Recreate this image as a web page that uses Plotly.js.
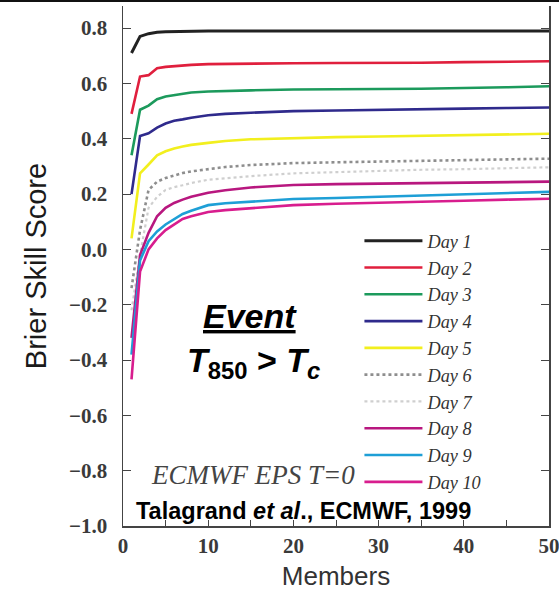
<!DOCTYPE html>
<html>
<head>
<meta charset="utf-8">
<script src="https://cdn.plot.ly/plotly-3.0.1.min.js"></script>
<style>html,body{margin:0;padding:0;background:#fff;}#chart{width:559px;height:599px;}</style>
</head>
<body>
<div id="chart"></div>
<script>
const members = [1,2,3,4,5,6,7,8,10,12,15,20,25,30,35,40,45,50];
const dayNames = ['Day 1','Day 2','Day 3','Day 4','Day 5','Day 6','Day 7','Day 8','Day 9','Day 10'];
const day1 = [0.71,0.77,0.78,0.785,0.787,0.788,0.789,0.79,0.79,0.79,0.79,0.79,0.79,0.79,0.79,0.79,0.79,0.79];
const day2 = [0.49,0.625,0.63,0.655,0.66,0.663,0.665,0.667,0.67,0.671,0.672,0.673,0.674,0.674,0.675,0.677,0.678,0.68];
const day3 = [0.34,0.505,0.52,0.543,0.553,0.558,0.563,0.567,0.571,0.573,0.575,0.578,0.58,0.58,0.581,0.583,0.586,0.59];
const day4 = [0.20,0.41,0.42,0.44,0.455,0.465,0.47,0.476,0.485,0.49,0.494,0.5,0.502,0.505,0.507,0.509,0.511,0.513];
const day5 = [0.04,0.275,0.307,0.34,0.355,0.365,0.372,0.378,0.385,0.392,0.398,0.403,0.406,0.408,0.41,0.412,0.414,0.418];
const day6 = [-0.14,0.07,0.215,0.245,0.258,0.268,0.276,0.282,0.29,0.298,0.305,0.312,0.315,0.318,0.32,0.322,0.325,0.328];
const day7 = [-0.22,-0.02,0.15,0.19,0.215,0.225,0.232,0.24,0.252,0.258,0.265,0.275,0.28,0.284,0.288,0.29,0.293,0.297];
const day8 = [-0.32,-0.02,0.06,0.12,0.15,0.168,0.18,0.19,0.205,0.214,0.224,0.233,0.236,0.238,0.24,0.241,0.243,0.245];
const day9 = [-0.38,-0.04,0.03,0.065,0.09,0.108,0.128,0.14,0.16,0.167,0.173,0.182,0.186,0.19,0.195,0.2,0.204,0.208];
const day10 = [-0.47,-0.08,0.0,0.04,0.07,0.09,0.11,0.12,0.135,0.142,0.149,0.16,0.165,0.168,0.172,0.176,0.18,0.183];
const xTickVals = [0,10,20,30,40,50];
const yTickVals = [-1.0,-0.8,-0.6,-0.4,-0.2,0.0,0.2,0.4,0.6,0.8];
const yTickText = ['\u22121.0','\u22120.8','\u22120.6','\u22120.4','\u22120.2','0.0','0.2','0.4','0.6','0.8'];

const series = [day1,day2,day3,day4,day5,day6,day7,day8,day9,day10];
const colors = ['#222222','#e01f3d','#1c9a5c','#2f2a8c','#f2ef1e','#8e8e8e','#cfcfcf','#b8177f','#1e9fd6','#d81d8e'];
const dashes = ['solid','solid','solid','solid','solid','dot','dot','solid','solid','solid'];
const widths = [3,2.6,2.6,2.6,2.6,2.6,2.2,2.6,2.6,2.6];

const traces = series.map((s,i)=>({
  x: members, y: s, type:'scatter', mode:'lines', name: dayNames[i],
  line:{color:colors[i], width:widths[i], dash:dashes[i]}
}));

const serif = 'Liberation Serif, Times New Roman, serif';
const sans = 'Liberation Sans, Arial, sans-serif';

const layout = {
  width:559, height:599,
  margin:{l:123, r:10, t:6, b:73},
  paper_bgcolor:'#ffffff', plot_bgcolor:'#ffffff',
  showlegend:true,
  legend:{x:0.555, y:0.584, xanchor:'left', yanchor:'top', bgcolor:'rgba(0,0,0,0)',
    itemwidth:58, tracegroupgap:0,
    font:{family:serif, size:18.3, style:'italic', color:'#333'}},
  xaxis:{range:[0,50], tickvals:xTickVals, ticks:'inside', ticklen:6, tickcolor:'#444',
    ticklabeloverflow:'allow',
    showline:true, linecolor:'#444', linewidth:1.5, showgrid:false, zeroline:false,
    minor:{dtick:5, ticks:'inside', ticklen:6, tickcolor:'#444'},
    tickfont:{family:serif, size:21, weight:'bold', color:'#3a3a3a'},
    title:{text:'Members', font:{family:sans, size:26, color:'#333'}, standoff:10}},
  yaxis:{range:[-1.0,0.88], tickvals:yTickVals, ticktext:yTickText, ticks:'inside', ticklen:8, tickcolor:'#444',
    showline:true, linecolor:'#444', linewidth:1.5, showgrid:false, zeroline:false, mirror:'ticks',
    ticklabelstandoff:10,
    tickfont:{family:serif, size:21, weight:'bold', color:'#3a3a3a'},
    title:{text:'Brier Skill Score', font:{family:sans, size:29, color:'#1a1a1a'}, standoff:14}},
  shapes:[{type:'line', xref:'paper', yref:'paper', x0:-0.3, x1:1.05, y0:1.0096, y1:1.0096, line:{color:'#111', width:2}}],
  annotations:[
    {x:14.9, y:-0.242, xref:'x', yref:'y', text:'Event', showarrow:false, xanchor:'center', yanchor:'middle',
      font:{family:sans, size:34, weight:'bold', style:'italic', lineposition:'under', color:'#000'}},
    {x:15.3, y:-0.41, xref:'x', yref:'y', text:'<i>T</i><sub>850</sub> > <i>T<sub>c</sub></i>', showarrow:false, xanchor:'center', yanchor:'middle',
      font:{family:sans, size:34, weight:'bold', color:'#000'}},
    {x:15.3, y:-0.816, xref:'x', yref:'y', text:'ECMWF EPS T=0', showarrow:false, xanchor:'center', yanchor:'middle',
      font:{family:serif, size:27, style:'italic', color:'#444'}},
    {x:21.2, y:-0.945, xref:'x', yref:'y', text:'Talagrand <i>et al</i>., ECMWF, 1999', showarrow:false, xanchor:'center', yanchor:'middle',
      font:{family:sans, size:23.5, weight:'bold', color:'#000'}}
  ]
};

Plotly.newPlot('chart', traces, layout, {displayModeBar:false, staticPlot:true});
</script>
</body>
</html>
